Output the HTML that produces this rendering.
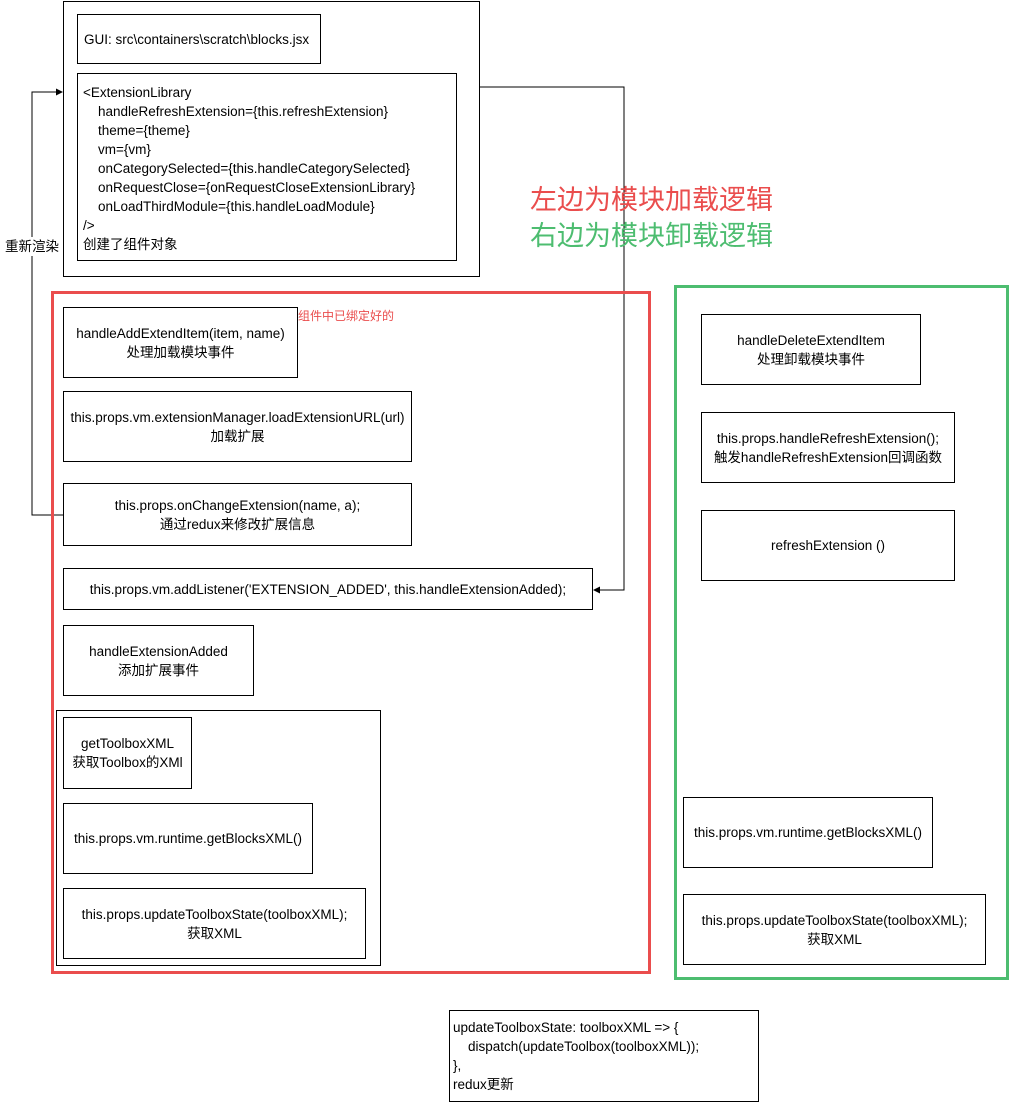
<!DOCTYPE html>
<html><head><meta charset="utf-8"><style>
body{margin:0;width:1009px;height:1104px;background:#fff;position:relative;overflow:hidden;font-family:"Liberation Sans","Noto Sans CJK SC",sans-serif;font-size:13.5px;color:#000}
.b{position:absolute;border:1px solid #000;box-sizing:border-box;display:flex;flex-direction:column;justify-content:center;align-items:center;text-align:center;line-height:19px;background:#fff;white-space:nowrap}
.t{position:absolute;white-space:pre;line-height:19px}
</style></head><body>
<div class="b" style="left:63px;top:1px;width:417px;height:276px"></div>
<div class="b" style="left:77px;top:14px;width:244px;height:50px;align-items:flex-start;padding-left:6px">GUI: src\containers\scratch\blocks.jsx</div>
<div class="b" style="left:77px;top:73px;width:380px;height:188px"></div>
<div class="t" style="left:83px;top:83px">&lt;ExtensionLibrary
    handleRefreshExtension={this.refreshExtension}
    theme={theme}
    vm={vm}
    onCategorySelected={this.handleCategorySelected}
    onRequestClose={onRequestCloseExtensionLibrary}
    onLoadThirdModule={this.handleLoadModule}
/&gt;
创建了组件对象</div>
<svg width="1009" height="1104" style="position:absolute;left:0;top:0">
<polyline points="63,515 32,515 32,92 58,92" fill="none" stroke="#000"/>
<polygon points="63,92 56,88.5 56,95.5" fill="#000"/>
<polyline points="479,87 624,87 624,590 598,590" fill="none" stroke="#000"/>
<polygon points="593,590 600,586.5 600,593.5" fill="#000"/>
<rect x="52.5" y="292.5" width="597" height="680" fill="none" stroke="#ea4d4d" stroke-width="3"/>
<rect x="675.5" y="286.5" width="332" height="692" fill="none" stroke="#4dbd70" stroke-width="3"/>
</svg>
<div class="t" style="left:5px;top:237px;background:#fff">重新渲染</div>
<div class="t" style="left:530px;top:184px;font-size:27px;line-height:32px;color:#ea4d4d">左边为模块加载逻辑</div>
<div class="t" style="left:530px;top:220px;font-size:27px;line-height:32px;color:#4dbd70">右边为模块卸载逻辑</div>
<div class="t" style="left:298px;top:307px;font-size:12px;color:#ea4d4d">组件中已绑定好的</div>
<div class="b" style="left:63px;top:307px;width:235px;height:71px">handleAddExtendItem(item, name)<br>处理加载模块事件</div>
<div class="b" style="left:63px;top:391px;width:349px;height:71px">this.props.vm.extensionManager.loadExtensionURL(url)<br>加载扩展</div>
<div class="b" style="left:63px;top:483px;width:349px;height:63px">this.props.onChangeExtension(name, a);<br>通过redux来修改扩展信息</div>
<div class="b" style="left:63px;top:568px;width:530px;height:42px">this.props.vm.addListener('EXTENSION_ADDED', this.handleExtensionAdded);</div>
<div class="b" style="left:63px;top:625px;width:191px;height:71px">handleExtensionAdded<br>添加扩展事件</div>
<div class="b" style="left:56px;top:710px;width:325px;height:256px"></div>
<div class="b" style="left:63px;top:717px;width:129px;height:72px">getToolboxXML<br>获取Toolbox的XMl</div>
<div class="b" style="left:63px;top:803px;width:250px;height:71px">this.props.vm.runtime.getBlocksXML()</div>
<div class="b" style="left:63px;top:888px;width:303px;height:71px">this.props.updateToolboxState(toolboxXML);<br>获取XML</div>
<div class="b" style="left:701px;top:314px;width:220px;height:71px">handleDeleteExtendItem<br>处理卸载模块事件</div>
<div class="b" style="left:701px;top:412px;width:254px;height:71px">this.props.handleRefreshExtension();<br>触发handleRefreshExtension回调函数</div>
<div class="b" style="left:701px;top:510px;width:254px;height:71px">refreshExtension ()</div>
<div class="b" style="left:683px;top:797px;width:250px;height:71px">this.props.vm.runtime.getBlocksXML()</div>
<div class="b" style="left:683px;top:894px;width:303px;height:71px">this.props.updateToolboxState(toolboxXML);<br>获取XML</div>
<div class="b" style="left:449px;top:1010px;width:310px;height:92px"></div>
<div class="t" style="left:453px;top:1018px">updateToolboxState: toolboxXML =&gt; {
    dispatch(updateToolbox(toolboxXML));
},
redux更新</div>
</body></html>
